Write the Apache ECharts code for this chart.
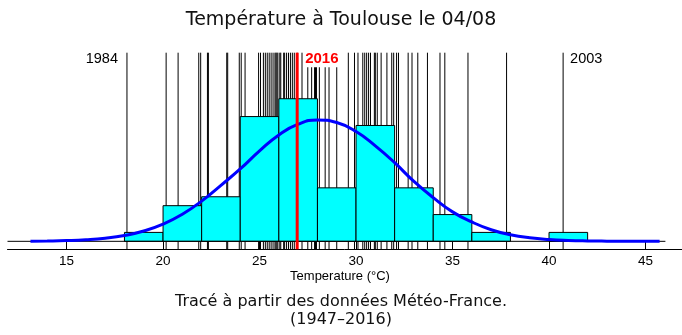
<!DOCTYPE html>
<html>
<head>
<meta charset="utf-8">
<script src="https://cdn.jsdelivr.net/npm/echarts@6/dist/echarts.min.js"></script>
<style>
html,body{margin:0;padding:0;background:#fff;}
#chart{width:682px;height:335px;}
</style>
</head>
<body>
<div id="chart"></div>
<script>
// ---- data ----
const yearTemps = [
  18.13,
  20.16, 20.78, 21.85, 21.95,
  22.30, 22.35, 23.30, 23.35, 23.95,
  24.05, 24.25, 24.95, 25.05, 25.20, 25.30, 25.40, 25.50, 25.60, 25.70, 25.80, 25.85, 25.90, 25.95,
  26.05, 26.10, 26.25, 26.30, 26.40, 26.50, 26.60, 26.70, 26.80, 26.95, 27.20, 27.50, 27.70, 27.85, 27.90, 27.95,
  28.10, 28.40, 28.60, 29.00, 29.60, 29.92,
  30.10, 30.35, 30.45, 30.55, 30.65, 30.75, 30.95, 31.00, 31.10, 31.30, 31.60, 31.85, 31.95,
  32.10, 32.20, 32.70, 32.90, 33.20, 33.70,
  34.35, 34.60, 35.80,
  37.80,
  40.73
];
const labelYears = ['1984', '2003', '2016'];
const labelTemps = [18.13, 40.73, 26.95];
const binStarts = [18, 20, 22, 24, 26, 28, 30, 32, 34, 36, 40];
const binCounts = [1, 4, 5, 14, 16, 6, 13, 6, 3, 1, 1];
const binWidth = 2;
const curveT = [13.13,14,15,16,17,18,19,20,21,22,23,24,25,26,27,28,29,30,31,32,33,34,35,36,37,38,39,40,41,42,43,44,45,45.73];
const curveD = [0.00012,0.00026,0.00059,0.00125,0.00249,0.00468,0.00829,0.01383,0.0217,0.0322,0.0449,0.0580,0.0725,0.0853,0.0939,0.0973,0.0952,0.0880,0.0765,0.0630,0.0480,0.0350,0.0236,0.0155,0.0093,0.0053,0.00284,0.00144,0.00069,0.00031,0.00013,0.00005,0.00002,0.00001];
const tickValues = [15, 20, 25, 30, 35, 40, 45];
const titleText = 'Température à Toulouse le 04/08';
const xName = 'Temperature (°C)';
const captionLines = ['Tracé à partir des données Météo-France.', '(1947–2016)'];

// ---- layout ----
const X_MIN = 11.94, X_MAX = 46.89, CURVE_END = 46.03;
const Y_MIN = -0.0064, Y_MAX = 0.1512;
const nTotal = binCounts.reduce((a, b) => a + b, 0);

const chart = echarts.init(document.getElementById('chart'), null, {renderer: 'canvas'});

const vlineRender = (color, width) => function (params, api) {
  const x = api.value(0);
  const p0 = api.coord([x, Y_MIN]);
  const p1 = api.coord([x, Y_MAX]);
  return {
    type: 'line',
    shape: {x1: p0[0], y1: p0[1], x2: p1[0], y2: p1[1]},
    style: {stroke: color, lineWidth: width}
  };
};

const option = {
  animation: false,
  backgroundColor: '#fff',
  title: {
    text: titleText, left: 'center', top: 6,
    textStyle: {fontFamily: 'DejaVu Sans', fontSize: 19, fontWeight: 'normal', color: '#111'}
  },
  grid: {left: 7.5, right: 0, top: 52.7, bottom: 335 - 249.3},
  xAxis: {
    type: 'value', min: X_MIN, max: X_MAX,
    axisLine: {show: true, onZero: false, lineStyle: {color: '#000', width: 1}},
    axisTick: {show: true, inside: true, length: 8, lineStyle: {color: '#000'}, customValues: tickValues},
    axisLabel: {customValues: tickValues, color: '#000', fontSize: 13.5, fontFamily: 'Liberation Sans', margin: 5},
    splitLine: {show: false}
  },
  yAxis: {type: 'value', min: Y_MIN, max: Y_MAX, show: false, splitLine: {show: false}},
  series: [
    {
      type: 'custom', z: 1, silent: true,
      data: yearTemps.map(t => [t]),
      renderItem: vlineRender('#000', 1)
    },
    {
      type: 'custom', z: 2, silent: true,
      data: binStarts.map((s, i) => [s, s + binWidth, binCounts[i] / (nTotal * binWidth)]),
      renderItem: function (params, api) {
        const p0 = api.coord([api.value(0), 0]);
        const p1 = api.coord([api.value(1), api.value(2)]);
        return {
          type: 'rect',
          shape: {x: p0[0], y: p1[1], width: p1[0] - p0[0], height: p0[1] - p1[1]},
          style: {fill: '#00ffff', stroke: '#000', lineWidth: 1}
        };
      }
    },
    {
      type: 'line', z: 3, silent: true, symbol: 'none',
      data: [[X_MIN, 0], [CURVE_END, 0]],
      lineStyle: {color: '#000', width: 1}
    },
    {
      type: 'line', z: 4, silent: true, symbol: 'none', smooth: true,
      data: curveT.map((t, i) => [t, curveD[i]]),
      lineStyle: {color: '#0000ff', width: 3}
    },
    {
      type: 'custom', z: 5, silent: true,
      data: [[labelTemps[2]]],
      renderItem: vlineRender('#ff0000', 3)
    },
    {
      type: 'custom', z: 6, silent: true,
      data: labelYears.map((y, i) => [labelTemps[i], i]),
      renderItem: function (params, api) {
        const i = api.value(1);
        const p = api.coord([api.value(0), Y_MAX]);
        const left = i === 0;
        const red = i === 2;
        return {
          type: 'text',
          x: p[0] + (left ? -9 : 7),
          y: p[1] + 6.5,
          style: {
            text: labelYears[i],
            fill: red ? '#ff0000' : '#000',
            fontFamily: 'Liberation Sans',
            fontSize: red ? 15 : 14.5,
            fontWeight: red ? 'bold' : 'normal',
            align: left ? 'right' : 'left',
            verticalAlign: 'middle',
            backgroundColor: red ? '#fff' : 'transparent',
            padding: red ? [0, 1, 1, 1] : 0
          }
        };
      }
    }
  ],
  graphic: [
    {type: 'text', x: 340, y: 276, style: {text: xName, fill: '#000', fontFamily: 'Liberation Sans', fontSize: 13, align: 'center', verticalAlign: 'middle'}},
    {type: 'text', x: 341, y: 302, style: {text: captionLines[0], fill: '#111', fontFamily: 'DejaVu Sans', fontSize: 16, align: 'center', verticalAlign: 'middle'}},
    {type: 'text', x: 341, y: 320, style: {text: captionLines[1], fill: '#111', fontFamily: 'DejaVu Sans', fontSize: 16, align: 'center', verticalAlign: 'middle'}}
  ]
};
chart.setOption(option);
</script>
</body>
</html>
